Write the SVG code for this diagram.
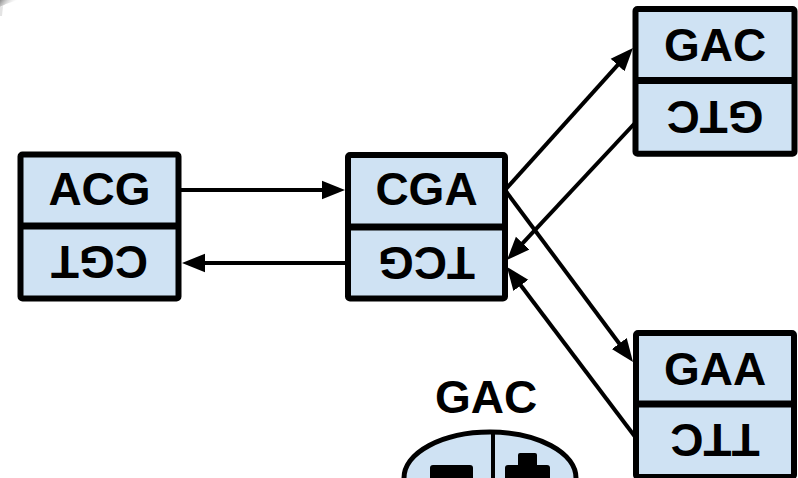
<svg xmlns="http://www.w3.org/2000/svg" width="798" height="478" viewBox="0 0 798 478">
  <defs>
    <style>
      .box { fill: #cfe2f3; stroke: #000; stroke-width: 6; stroke-linejoin: round; }
      .div { stroke: #000; stroke-width: 7; }
      .lbl { font-family: "Liberation Sans", Arial, sans-serif; font-weight: bold; font-size: 46px; fill: #000; text-anchor: middle; }
      .edge { stroke: #000; stroke-width: 4; fill: none; marker-end: url(#head); }
    </style>
    <marker id="head" markerUnits="userSpaceOnUse" markerWidth="26" markerHeight="22" viewBox="0 -11 26 22" refX="3" refY="0" orient="auto">
      <path d="M0,-9.3 L23,0 L0,9.3 z" fill="#000"/>
    </marker>
    <linearGradient id="smudge" x1="0" y1="0" x2="1" y2="0.3">
      <stop offset="0" stop-color="#8a8a8a"/>
      <stop offset="1" stop-color="#ffffff" stop-opacity="0"/>
    </linearGradient>
  </defs>

  <!-- corner smudge -->
  <path d="M0,0 L18,0 L6,4 L0,7 z" fill="url(#smudge)"/>
  <path d="M0,7 L3,6 L2,16 L0,16 z" fill="#e4e4e4"/>

  <!-- connectors -->
  <g id="connectors">
    <line class="edge" x1="179" y1="190" x2="325" y2="190"/>
    <line class="edge" x1="348" y1="263" x2="202" y2="263"/>
    <line class="edge" x1="505" y1="190" x2="619.6" y2="62.85"/>
    <line class="edge" x1="635" y1="123" x2="520.65" y2="245.39"/>
    <line class="edge" x1="505" y1="190" x2="621.06" y2="345.96"/>
    <line class="edge" x1="636" y1="438" x2="519.04" y2="282.97"/>
  </g>

  <g id="node-acg">
    <rect class="box" x="20.5" y="154.5" width="158" height="144" rx="2"/>
    <line class="div" x1="20.5" y1="226" x2="178.5" y2="226"/>
    <text class="lbl" x="99.5" y="205">ACG</text>
    <text class="lbl" x="99.5" y="279" transform="rotate(180 99.5 262.5)">CGT</text>
  </g>

  <g id="node-cga">
    <rect class="box" x="348" y="155" width="157" height="143.5" rx="2"/>
    <line class="div" x1="348" y1="227" x2="505" y2="227"/>
    <text class="lbl" x="426.5" y="205">CGA</text>
    <text class="lbl" x="426.5" y="279.5" transform="rotate(180 426.5 263)">TCG</text>
  </g>

  <g id="node-gac">
    <rect class="box" x="635.5" y="9" width="159" height="144.7" rx="2"/>
    <line class="div" x1="635.5" y1="80.5" x2="794.5" y2="80.5"/>
    <text class="lbl" x="715" y="61">GAC</text>
    <text class="lbl" x="715" y="133.5" transform="rotate(180 715 117)">GTC</text>
  </g>

  <g id="node-gaa">
    <rect class="box" x="636" y="333" width="158" height="144" rx="2"/>
    <line class="div" x1="636" y1="404" x2="794" y2="404"/>
    <text class="lbl" x="715" y="385">GAA</text>
    <text class="lbl" x="715" y="457" transform="rotate(180 715 440.5)">TTC</text>
  </g>

  <g id="node-terminal">
    <text class="lbl" x="486" y="413">GAC</text>
    <ellipse cx="490" cy="478" rx="86" ry="46" fill="#cfe2f3" stroke="#000" stroke-width="5"/>
    <line x1="493" y1="431" x2="493" y2="478" stroke="#000" stroke-width="4"/>
    <rect x="430" y="465" width="43" height="20" rx="3" fill="#000"/>
    <rect x="518" y="453" width="19" height="30" rx="2" fill="#000"/>
    <rect x="505" y="465" width="45" height="20" rx="3" fill="#000"/>
  </g>
</svg>
